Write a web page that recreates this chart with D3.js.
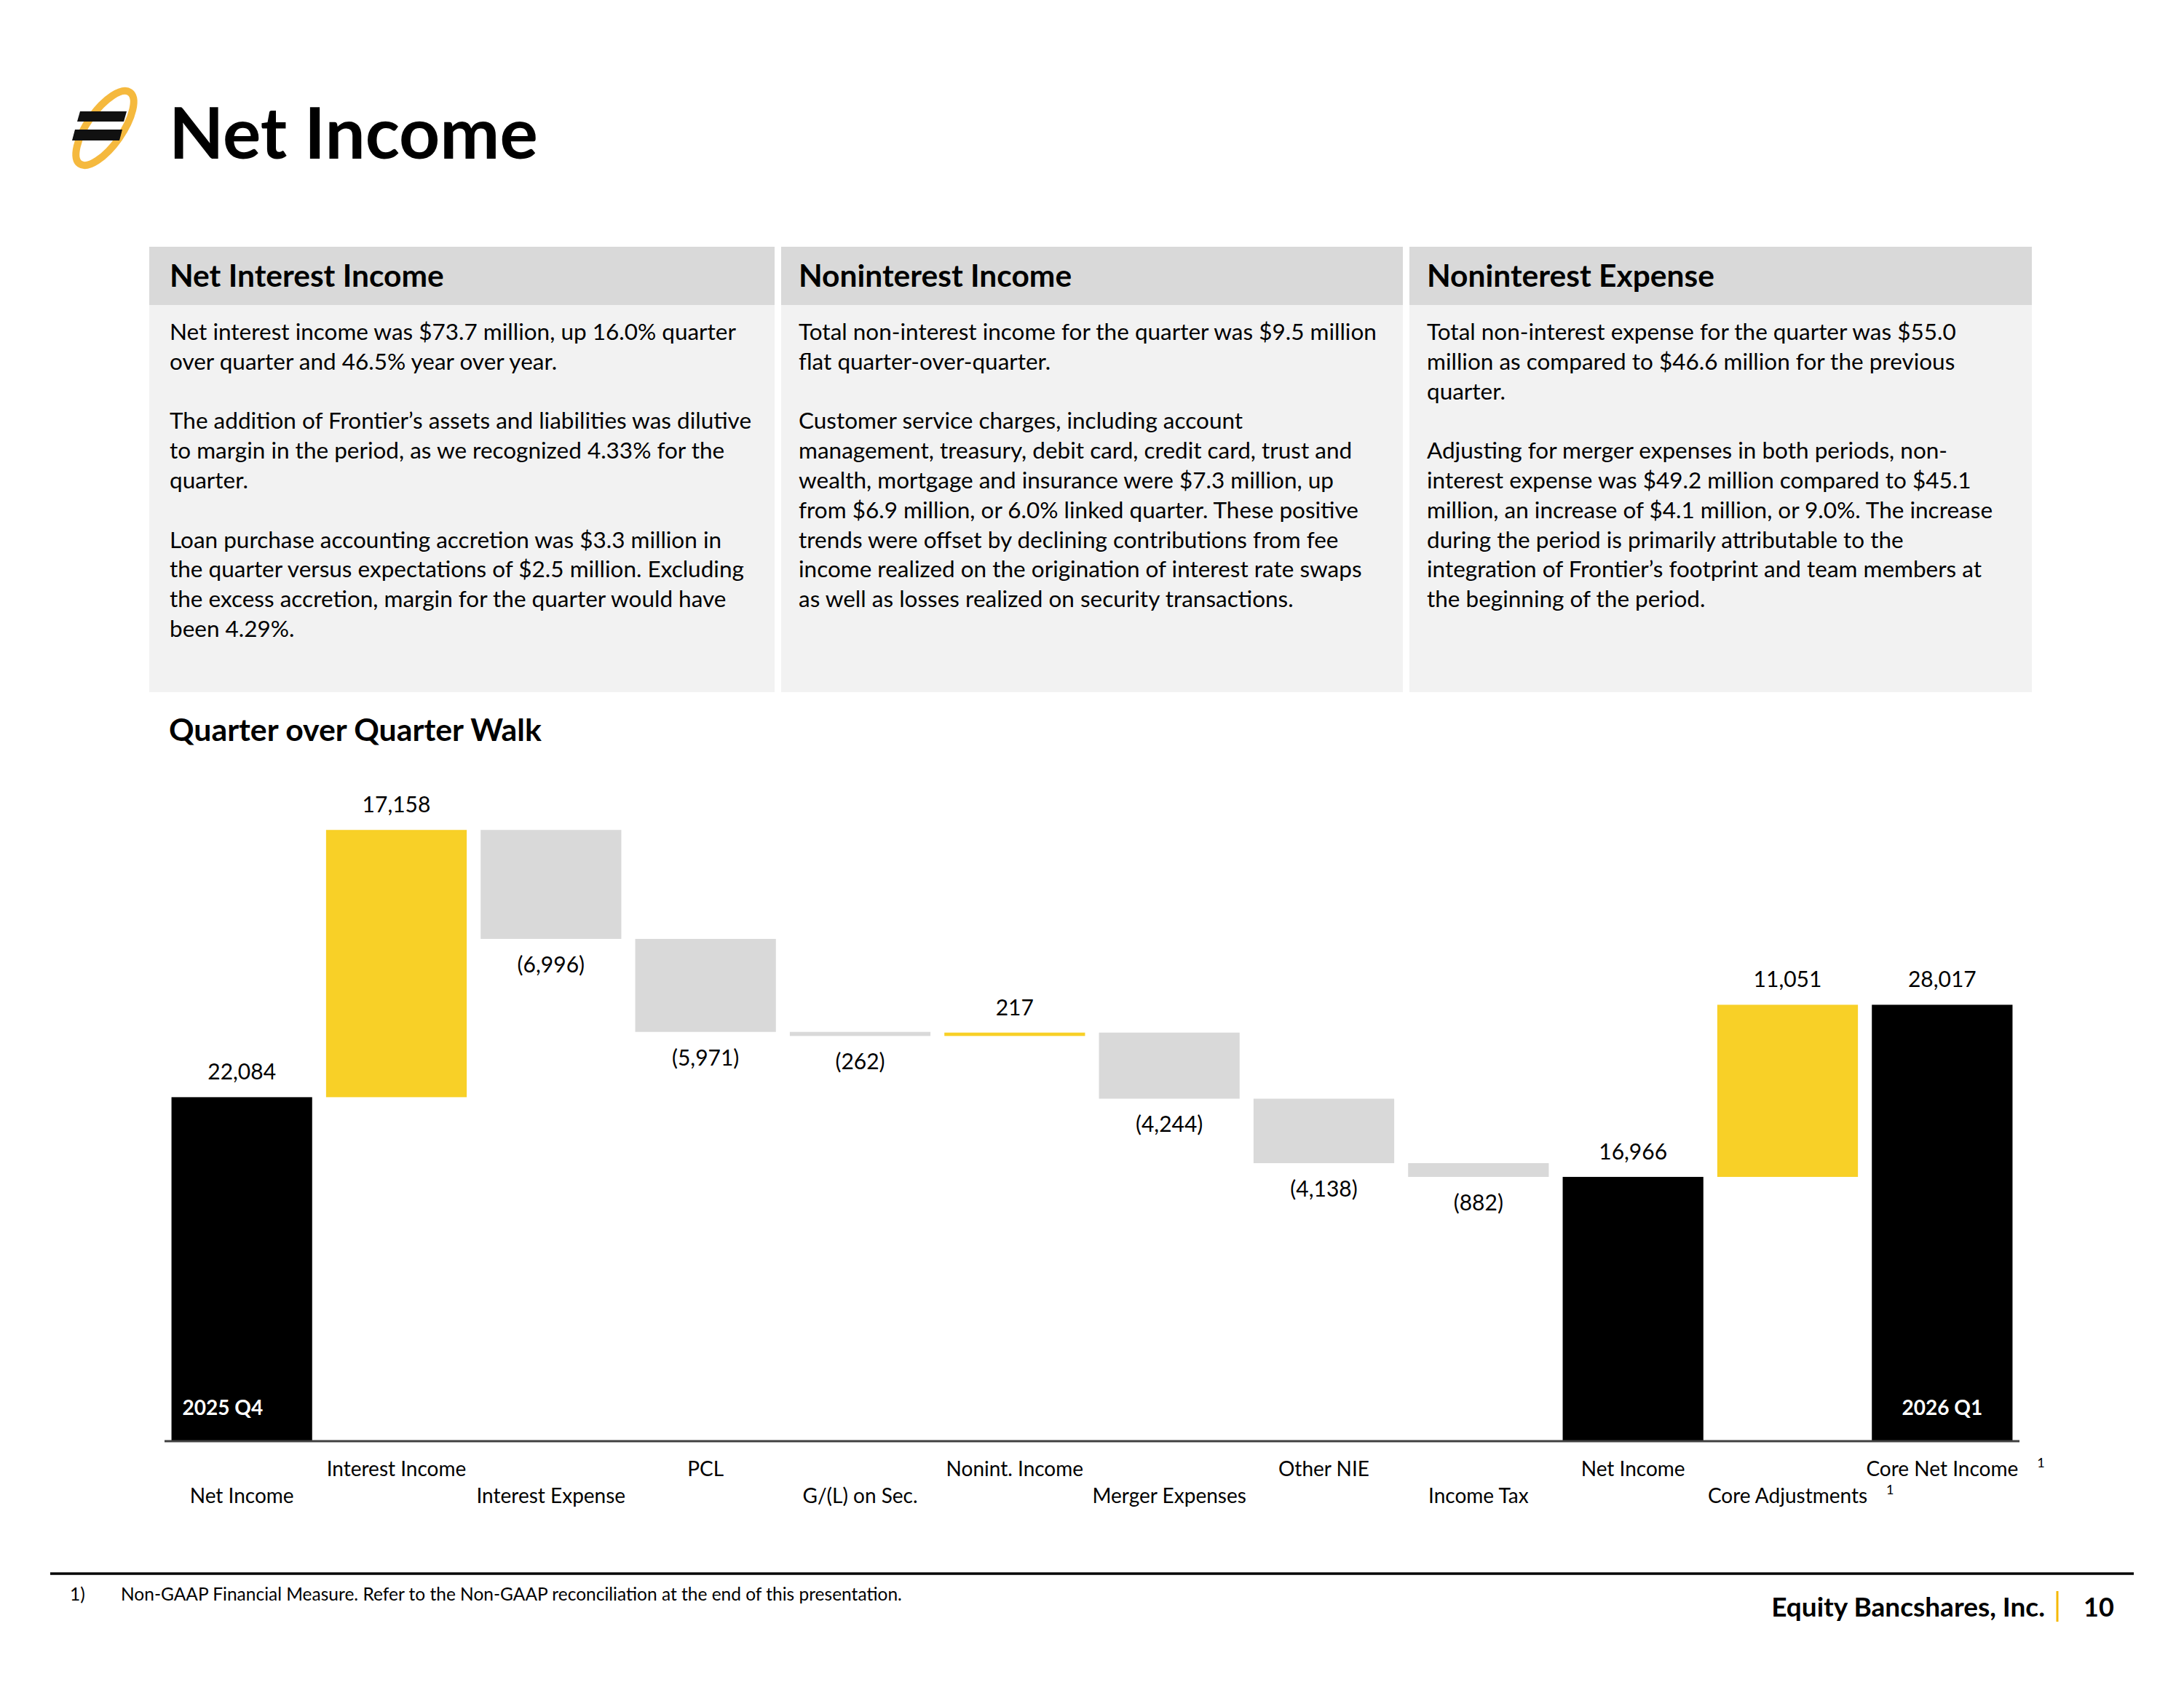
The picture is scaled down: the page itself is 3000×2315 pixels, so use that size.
<!DOCTYPE html>
<html>
<head>
<meta charset="utf-8">
<script src="https://cdn.jsdelivr.net/npm/d3@7"></script>
<style>
  html, body { margin: 0; padding: 0; background: #fff; }
  svg { display: block; font-family: Lato, "Open Sans", sans-serif; }
</style>
</head>
<body>
<svg id="chart" width="3000" height="2315"></svg>
<script>
// ---------------- DATA ----------------
const categories = ["Net Income", "Interest Income", "Interest Expense", "PCL", "G/(L) on Sec.",
  "Nonint. Income", "Merger Expenses", "Other NIE", "Income Tax", "Net Income",
  "Core Adjustments", "Core Net Income"];
const values = [22084, 17158, -6996, -5971, -262, 217, -4244, -4138, -882, 16966, 11051, 28017];
const barTypes = ["total", "delta", "delta", "delta", "delta", "delta", "delta", "delta", "delta", "total", "delta", "total"];
const footnoteMarks = ["", "", "", "", "", "", "", "", "", "", "1", "1"];
const periodLabels = ["2025 Q4", "", "", "", "", "", "", "", "", "", "", "2026 Q1"];

const panelTitles = ["Net Interest Income", "Noninterest Income", "Noninterest Expense"];
const panel1Lines = [
  "Net interest income was $73.7 million, up 16.0% quarter",
  "over quarter and 46.5% year over year.",
  "",
  "The addition of Frontier’s assets and liabilities was dilutive",
  "to margin in the period, as we recognized 4.33% for the",
  "quarter.",
  "",
  "Loan purchase accounting accretion was $3.3 million in",
  "the quarter versus expectations of $2.5 million.  Excluding",
  "the excess accretion, margin for the quarter would have",
  "been 4.29%."
];
const panel2Lines = [
  "Total non-interest income for the quarter was $9.5 million",
  "flat quarter-over-quarter.",
  "",
  "Customer service charges, including account",
  "management, treasury, debit card, credit card, trust and",
  "wealth, mortgage and insurance were $7.3 million, up",
  "from $6.9 million, or 6.0% linked quarter. These positive",
  "trends were offset by declining contributions from fee",
  "income realized on the origination of interest rate swaps",
  "as well as losses realized on security transactions."
];
const panel3Lines = [
  "Total non-interest expense for the quarter was $55.0",
  "million as compared to $46.6 million for the previous",
  "quarter.",
  "",
  "Adjusting for merger expenses in both periods, non-",
  "interest expense was $49.2 million compared to $45.1",
  "million, an increase of $4.1 million, or 9.0%.  The increase",
  "during the period is primarily attributable to the",
  "integration of Frontier’s footprint and team members at",
  "the beginning of the period."
];

// ---------------- STYLE ----------------
const YELLOW = "#F8D027";
const GRAY = "#D9D9D9";
const BLACK = "#000000";

const svg = d3.select("#chart");
svg.append("rect").attr("width", 3000).attr("height", 2315).attr("fill", "#fff");

// ---------- Logo ----------
const logo = svg.append("g").attr("transform", "translate(144,176)");
logo.append("ellipse").attr("rx", 24).attr("ry", 60)
  .attr("transform", "rotate(35)")
  .attr("fill", "none").attr("stroke", "#F5B93E").attr("stroke-width", 10);
logo.append("path").attr("d", "M-34,-23 L30,-23 L26,-9 L-38,-9 Z").attr("fill", "#111");
logo.append("path").attr("d", "M-41,2 L24,2 L20,17 L-45,17 Z").attr("fill", "#111");

// ---------- Title ----------
svg.append("text").attr("x", 232).attr("y", 218)
  .attr("font-size", 98).attr("font-weight", 700).attr("fill", "#000")
  .text("Net Income");

// ---------- Panels ----------
const panelX = [205, 1073, 1936];
const panelW = [859, 854, 855];
const textOffset = [28, 24, 24];
const panelLines = [panel1Lines, panel2Lines, panel3Lines];
panelX.forEach((px, i) => {
  const g = svg.append("g");
  g.append("rect").attr("x", px).attr("y", 339).attr("width", panelW[i]).attr("height", 80).attr("fill", "#D9D9D9");
  g.append("rect").attr("x", px).attr("y", 419).attr("width", panelW[i]).attr("height", 532).attr("fill", "#F2F2F2");
  g.append("text").attr("x", px + textOffset[i]).attr("y", 394)
    .attr("font-size", 42.5).attr("font-weight", 700).attr("fill", "#000")
    .text(panelTitles[i]);
  const t = g.append("text").attr("font-size", 31.5).attr("fill", "#000");
  panelLines[i].forEach((ln, j) => {
    if (ln === "") return;
    t.append("tspan").attr("x", px + textOffset[i]).attr("y", 467 + j * 40.8).text(ln);
  });
});

// ---------- Chart subtitle ----------
svg.append("text").attr("x", 232).attr("y", 1018)
  .attr("font-size", 42.8).attr("font-weight", 700).attr("fill", "#000")
  .text("Quarter over Quarter Walk");

// ---------- Waterfall ----------
const x = d3.scaleBand().domain(d3.range(categories.length)).range([226, 2774])
  .paddingInner(0.09).paddingOuter(0.045);
const y = d3.scaleLinear().domain([0, 40000]).range([1980, 1124]);

let running = 0;
const bars = values.map((v, i) => {
  let lo, hi, color;
  if (barTypes[i] === "total") {
    lo = 0; hi = v; running = v; color = BLACK;
  } else {
    const start = running; running = start + v;
    lo = Math.min(start, running); hi = Math.max(start, running);
    color = v >= 0 ? YELLOW : GRAY;
  }
  return { i, v, lo, hi, color };
});

const fmt = d3.format(",");
const labelText = v => v < 0 ? "(" + fmt(-v) + ")" : fmt(v);

const gBars = svg.append("g");
gBars.selectAll("rect").data(bars).join("rect")
  .attr("x", d => x(d.i)).attr("width", x.bandwidth())
  .attr("y", d => y(d.hi)).attr("height", d => y(d.lo) - y(d.hi))
  .attr("fill", d => d.color);

gBars.selectAll("text.val").data(bars).join("text").attr("class", "val")
  .attr("x", d => x(d.i) + x.bandwidth() / 2)
  .attr("y", d => d.v >= 0 ? y(d.hi) - 24 : y(d.lo) + 46)
  .attr("text-anchor", "middle").attr("font-size", 30).attr("fill", "#000")
  .text(d => labelText(d.v));

// period labels inside total bars
gBars.selectAll("text.per").data(bars.filter(d => periodLabels[d.i] !== "")).join("text").attr("class", "per")
  .attr("x", d => d.i === 0 ? x(d.i) + 15 : x(d.i) + x.bandwidth() / 2)
  .attr("text-anchor", d => d.i === 0 ? "start" : "middle")
  .attr("y", 1944).attr("font-size", 28).attr("font-weight", 700).attr("fill", "#fff")
  .text(d => periodLabels[d.i]);

// x axis (baseline + staggered category labels)
const xAxis = d3.axisBottom(x).tickSize(0).tickFormat("");
const axG = svg.append("g").attr("transform", `translate(0,${y(0)})`).call(xAxis);
axG.select(".domain").attr("stroke", "#404040").attr("stroke-width", 3).attr("d", "M226,0H2774");

const catG = svg.append("g");
categories.forEach((c, i) => {
  const cx = x(i) + x.bandwidth() / 2;
  const by = i % 2 === 1 ? 2028 : 2065;
  const t = catG.append("text").attr("x", cx).attr("y", by).attr("text-anchor", "middle")
    .attr("font-size", 28).attr("fill", "#000").text(c);
  if (footnoteMarks[i]) {
    const w = t.node().getComputedTextLength();
    catG.append("text").attr("x", cx + w / 2 + 26).attr("y", by - 12)
      .attr("font-size", 18).attr("fill", "#000").text(footnoteMarks[i]);
  }
});

// ---------- Footer ----------
svg.append("line").attr("x1", 69).attr("x2", 2931).attr("y1", 2162).attr("y2", 2162)
  .attr("stroke", "#000").attr("stroke-width", 3.5);
svg.append("text").attr("x", 96).attr("y", 2199).attr("font-size", 24.5).text("1)");
svg.append("text").attr("x", 166).attr("y", 2199).attr("font-size", 24.5)
  .text("Non-GAAP Financial Measure. Refer to the Non-GAAP reconciliation at the end of this presentation.");
svg.append("text").attr("x", 2809).attr("y", 2221).attr("text-anchor", "end")
  .attr("font-size", 37).attr("font-weight", 700).text("Equity Bancshares, Inc.");
svg.append("line").attr("x1", 2826).attr("x2", 2826).attr("y1", 2186).attr("y2", 2228)
  .attr("stroke", "#F5B800").attr("stroke-width", 3);
svg.append("text").attr("x", 2862).attr("y", 2221)
  .attr("font-size", 36).attr("font-weight", 700).text("10");
</script>
</body>
</html>
